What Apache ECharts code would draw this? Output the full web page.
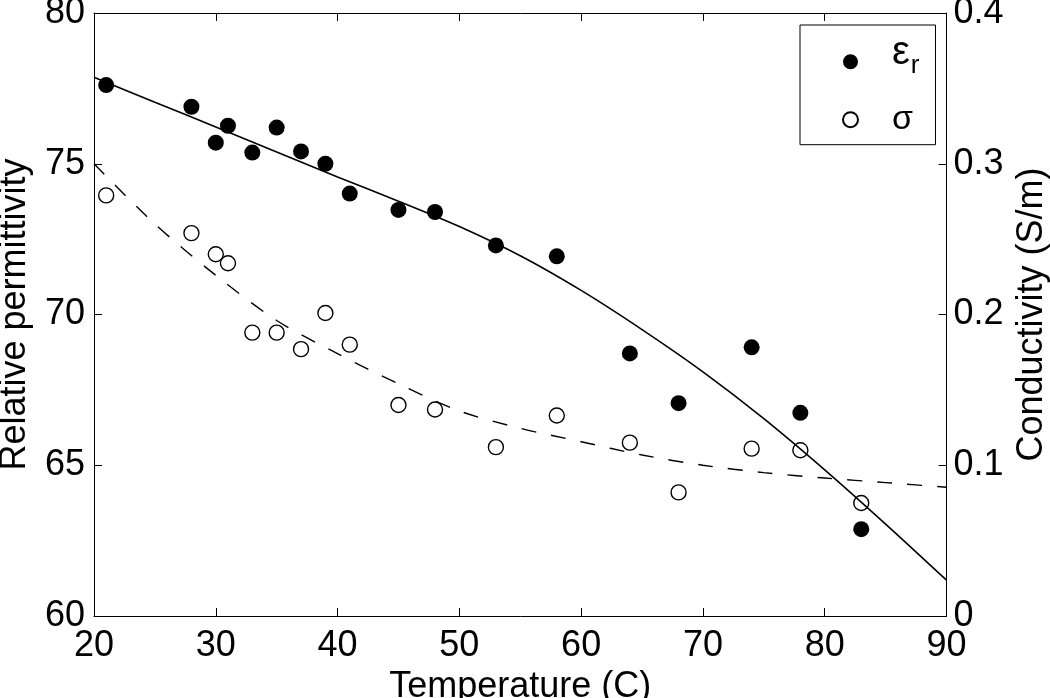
<!DOCTYPE html>
<html>
<head>
<meta charset="utf-8">
<script src="https://cdn.jsdelivr.net/npm/echarts@6/dist/echarts.min.js"></script>
<style>
html,body{margin:0;padding:0;background:#fff;}
#chart{width:1050px;height:698px;}
</style>
</head>
<body>
<div id="chart"></div>
<script>
// Measured temperatures (C)
const temps = [21, 28, 30, 31, 33, 35, 37, 39, 41, 45, 48, 53, 58, 64, 68, 74, 78, 83];
// Relative permittivity (left axis)
const epsR = [77.61, 76.89, 75.70, 76.26, 75.37, 76.20, 75.41, 75.00, 74.01, 73.47, 73.40, 72.29, 71.93, 68.71, 67.06, 68.91, 66.74, 62.88];
// Conductivity S/m (right axis)
const sigma = [0.279, 0.254, 0.240, 0.234, 0.188, 0.188, 0.177, 0.201, 0.180, 0.140, 0.137, 0.112, 0.133, 0.115, 0.082, 0.111, 0.110, 0.075];
// Fit curves
const fitT = [20, 25, 30, 35, 40, 45, 50, 55, 60, 65, 70, 75, 80, 85, 90];
const fitEps = [77.87, 77.04, 76.22, 75.39, 74.56, 73.76, 72.92, 71.95, 70.8, 69.5, 68.1, 66.55, 64.85, 63.05, 61.19];
const fitSigma = [0.300, 0.260, 0.226, 0.196, 0.174, 0.154, 0.136, 0.1245, 0.1156, 0.1068, 0.100, 0.0951, 0.0915, 0.0885, 0.0854];
// Axis ticks
const xTicks = {min: 20, max: 90, interval: 10};
const yLeftTicks = {min: 60, max: 80, interval: 5};
const yRightTicks = {min: 0, max: 0.4, interval: 0.1};

const FONT = 'Liberation Sans, Arial, Helvetica, sans-serif';
const FS = 36;
const pair = (xs, ys) => xs.map((x, i) => [x, ys[i]]);

const chart = echarts.init(document.getElementById('chart'), null, {renderer: 'canvas'});
const axisLine = {show: true, lineStyle: {color: '#000', width: 1}};
const tick = {show: true, inside: true, length: 8, lineStyle: {color: '#000', width: 1}};

chart.setOption({
  backgroundColor: '#fff',
  animation: false,
  textStyle: {fontFamily: FONT},
  grid: {left: 94, top: 13, width: 852.5, height: 603, containLabel: false, outerBoundsMode: 'none'},
  legend: {
    orient: 'vertical',
    left: 800,
    top: 25,
    padding: [8, 16, 8, 42],
    itemGap: 23.7,
    itemWidth: 15,
    itemHeight: 15,
    borderColor: '#000',
    borderWidth: 1,
    backgroundColor: '#fff',
    data: [
      {name: 'eps', textStyle: {padding: [0, 0, 17.4, 29]}},
      {name: 'sigma', textStyle: {padding: [0, 0, 0, 29]}}
    ],
    formatter: function (name) {
      return name === 'eps' ? '{e|ε}{s|r}' : '{g|σ}';
    },
    textStyle: {
      color: '#000',
      fontFamily: FONT,
      padding: [0, 0, 0, 29],
      rich: {
        e: {fontSize: 40, lineHeight: 40, color: '#000', fontFamily: FONT, verticalAlign: 'top'},
        s: {fontSize: 26, lineHeight: 26, color: '#000', fontFamily: FONT, verticalAlign: 'top', padding: [20, 0, 0, 1]},
        g: {fontSize: 34, lineHeight: 40, color: '#000', fontFamily: FONT}
      }
    }
  },
  xAxis: [
    {
      type: 'value', position: 'bottom', min: xTicks.min, max: xTicks.max, interval: xTicks.interval,
      name: 'Temperature (C)', nameLocation: 'middle', nameGap: 53,
      nameTextStyle: {fontSize: FS, color: '#000', fontFamily: FONT},
      axisLine: axisLine, axisTick: tick,
      axisLabel: {fontSize: FS, color: '#000', margin: 12, fontFamily: FONT},
      splitLine: {show: false}
    },
    {
      type: 'value', position: 'top', min: xTicks.min, max: xTicks.max, interval: xTicks.interval,
      axisLine: axisLine, axisTick: tick, axisLabel: {show: false}, splitLine: {show: false}
    }
  ],
  yAxis: [
    {
      type: 'value', position: 'left', min: yLeftTicks.min, max: yLeftTicks.max, interval: yLeftTicks.interval,
      name: 'Relative permittivity', nameLocation: 'middle', nameGap: 61, nameRotate: 90,
      nameTextStyle: {fontSize: FS, color: '#000', fontFamily: FONT},
      axisLine: axisLine, axisTick: tick,
      axisLabel: {fontSize: FS, color: '#000', margin: 9, fontFamily: FONT},
      splitLine: {show: false}
    },
    {
      type: 'value', position: 'right', min: yRightTicks.min, max: yRightTicks.max, interval: yRightTicks.interval,
      name: 'Conductivity (S/m)', nameLocation: 'middle', nameGap: 64, nameRotate: 90,
      nameTextStyle: {fontSize: FS, color: '#000', fontFamily: FONT},
      axisLine: axisLine, axisTick: tick,
      axisLabel: {fontSize: FS, color: '#000', margin: 7, fontFamily: FONT},
      splitLine: {show: false}
    }
  ],
  series: [
    {
      name: 'epsFit', type: 'line', xAxisIndex: 0, yAxisIndex: 0,
      data: pair(fitT, fitEps), smooth: 0.3, showSymbol: false, symbol: 'none',
      lineStyle: {color: '#000', width: 1.6}, z: 2
    },
    {
      name: 'sigmaFit', type: 'line', xAxisIndex: 0, yAxisIndex: 1,
      data: pair(fitT, fitSigma), smooth: 0.3, showSymbol: false, symbol: 'none',
      lineStyle: {color: '#000', width: 1.4, type: [15, 15]}, z: 2
    },
    {
      name: 'eps', type: 'scatter', xAxisIndex: 0, yAxisIndex: 0,
      data: pair(temps, epsR), symbol: 'circle', symbolSize: 16,
      itemStyle: {color: '#000', opacity: 1}, z: 3
    },
    {
      name: 'sigma', type: 'scatter', xAxisIndex: 0, yAxisIndex: 1,
      data: pair(temps, sigma), symbol: 'circle', symbolSize: 15,
      itemStyle: {color: 'rgba(255,255,255,0)', borderColor: '#000', borderWidth: 1.4, opacity: 1}, z: 3
    }
  ]
});
</script>
</body>
</html>
